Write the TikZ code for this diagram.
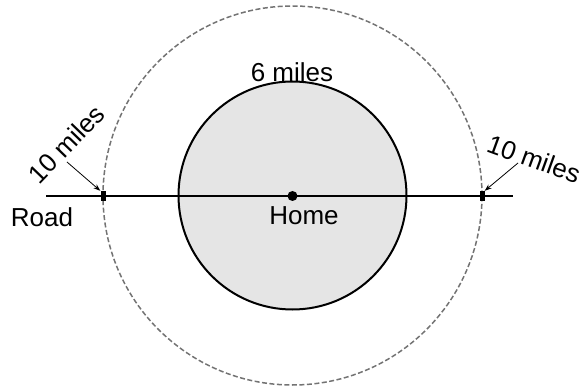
\documentclass[tikz,border=0pt]{standalone}
\usepackage{fontspec}
\setmainfont{Liberation Sans}
\usetikzlibrary{arrows.meta}
\begin{document}
\begin{tikzpicture}[x=1pt,y=1pt,
  lbl/.style={font=\fontsize{26}{28}\selectfont, inner sep=0pt},
  tick/.style={fill=black, minimum width=5pt, minimum height=10pt, inner sep=0pt},
  ptr/.style={-{Stealth[length=7pt,width=5pt]}, line width=0.8pt}]
\useasboundingbox (0,0) rectangle (584,386);
\coordinate (c) at (292.5,190.5);
\draw[black!55, line width=1.5pt, dash pattern=on 5pt off 2.5pt] (c) circle (189.5);
\draw[fill=black!10, line width=2pt] (c) circle (114);
\coordinate (rl) at (46,190);
\coordinate (rr) at (513,190);
\draw[line width=2.5pt] (rl) -- (rr);
\node[circle, fill=black, minimum size=10pt, inner sep=0pt] (home) at (292.5,190) {};
\node[tick] (tl) at (103,190) {};
\node[tick] (tr) at (482,190) {};
\node[lbl] (six) at (292,314) {6 miles};
\node[lbl] (homel) at (304,170) {Home};
\node[lbl] (road) at (42,169) {Road};
\node[lbl, rotate=46] (ml) at (66,242) {10 miles};
\node[lbl, rotate=-20] (mr) at (534,227) {10 miles};
\coordinate (al) at (67,224);
\coordinate (ar) at (518,223);
\draw[ptr] (al) -- (tl.north west);
\draw[ptr] (ar) -- (tr.north east);
\end{tikzpicture}
\end{document}
